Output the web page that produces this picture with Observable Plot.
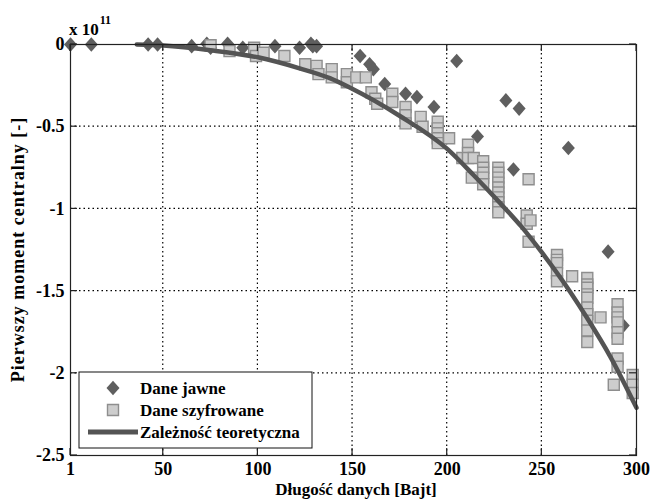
<!DOCTYPE html>
<html>
<head>
<meta charset="utf-8">
<script src="https://cdn.jsdelivr.net/npm/d3@7"></script>
<script src="https://cdn.jsdelivr.net/npm/@observablehq/plot@0.6"></script>
<style>
  html, body { margin: 0; padding: 0; background: #fff; }
  #chart { width: 650px; height: 500px; }
</style>
</head>
<body>
<div id="chart"></div>
<script>
// ---- Data (values in units of 10^11) ----
const xTicks = [1, 50, 100, 150, 200, 250, 300];
const yTicks = [0, -0.5, -1, -1.5, -2, -2.5];
const xTickLabels = ["1", "50", "100", "150", "200", "250", "300"];
const yTickLabels = ["0", "-0.5", "-1", "-1.5", "-2", "-2.5"];

// Dane jawne (diamonds)
const jawneX = [1, 12, 42, 47, 65, 73, 75, 84, 92, 109, 122, 128, 129, 131,
  154, 159, 161, 167, 178, 184, 193, 205, 216, 231, 235, 238, 264, 285, 293];
const jawneY = [0, 0, 0, 0, -0.01, 0.005, -0.02, 0.005, -0.02, -0.01, -0.02, 0.005, -0.01, -0.01,
  -0.07, -0.12, -0.15, -0.24, -0.30, -0.32, -0.38, -0.10, -0.56, -0.34, -0.76, -0.39, -0.63, -1.26, -1.71];

// Dane szyfrowane (squares)
const szyfrX = [75, 85, 98, 99, 103, 114, 125, 131, 132, 139, 139, 147, 147, 152, 157,
  160, 162, 163, 171, 171, 178, 178, 178, 186, 187,
  195, 195, 195, 195, 195, 201,
  208, 211, 211, 211, 214, 213,
  219, 219, 219, 219, 219,
  227, 227, 227, 227, 227, 227, 227, 227, 227, 227,
  243, 242, 242, 244, 243,
  258, 258, 258, 258, 258, 266,
  274, 274, 274, 274, 274, 274, 274, 274, 274, 274, 281,
  290, 290, 290, 290, 290, 290, 290, 290, 288,
  298, 298, 298];
const szyfrY = [-0.005, -0.04, -0.02, -0.07, -0.05, -0.07, -0.12, -0.13, -0.18, -0.15, -0.20, -0.18, -0.23, -0.20, -0.20,
  -0.29, -0.33, -0.36, -0.30, -0.35, -0.38, -0.43, -0.48, -0.44, -0.50,
  -0.47, -0.51, -0.54, -0.57, -0.60, -0.57,
  -0.69, -0.61, -0.66, -0.69, -0.69, -0.81,
  -0.71, -0.75, -0.78, -0.81, -0.85,
  -0.75, -0.78, -0.81, -0.84, -0.87, -0.90, -0.93, -0.96, -0.99, -1.02,
  -0.82, -1.04, -1.09, -1.07, -1.20,
  -1.28, -1.31, -1.33, -1.39, -1.44, -1.41,
  -1.42, -1.46, -1.48, -1.52, -1.54, -1.60, -1.64, -1.68, -1.74, -1.81, -1.66,
  -1.58, -1.63, -1.66, -1.69, -1.75, -1.79, -1.91, -1.96, -2.07,
  -2.01, -2.07, -2.12];

// Zależność teoretyczna (line)
const teorX = [36, 50, 75, 100, 122, 138, 149, 175, 200, 214, 228, 239, 250, 265, 274, 286, 300];
const teorY = [0, -0.006, -0.035, -0.078, -0.145, -0.205, -0.265, -0.435, -0.635, -0.795, -0.965, -1.105, -1.265, -1.505, -1.665, -1.895, -2.21];

const legendLabels = ["Dane jawne", "Dane szyfrowane", "Zależność teoretyczna"];
const xTitle = "Długość danych [Bajt]";
const yTitle = "Pierwszy moment centralny [-]";

// ---- Tables built from arrays ----
const jawne = jawneX.map((x, i) => ({x, y: jawneY[i]}));
const szyfr = szyfrX.map((x, i) => ({x, y: szyfrY[i]}));
const teor = teorX.map((x, i) => ({x, y: teorY[i]}));

const FONT = "'Liberation Serif', 'DejaVu Serif', serif";
const C_DIAM = "#5f5f5f";
const C_SQ_FILL = "#cdcdcd";
const C_SQ_STROKE = "#8e8e8e";
const C_LINE = "#545454";

const diamondSym = {
  draw(ctx) {
    ctx.moveTo(0, -7.3); ctx.lineTo(6.5, 0); ctx.lineTo(0, 7.3); ctx.lineTo(-6.5, 0); ctx.closePath();
  }
};
const squareSym = {
  draw(ctx) {
    ctx.moveTo(-5.5, -5.5); ctx.lineTo(5.5, -5.5); ctx.lineTo(5.5, 5.5); ctx.lineTo(-5.5, 5.5); ctx.closePath();
  }
};

const plot = Plot.plot({
  width: 650,
  height: 500,
  marginLeft: 70,
  marginRight: 14,
  marginTop: 44,
  marginBottom: 45,
  style: {fontFamily: FONT, fontSize: "18px", fontWeight: "bold", background: "white", color: "black"},
  x: {domain: [1, 300]},
  y: {domain: [-2.5, 0]},
  marks: [
    Plot.dot(jawne, {x: "x", y: "y", symbol: diamondSym, r: 7, fill: C_DIAM, stroke: "none"}),
    Plot.dot(szyfr, {x: "x", y: "y", symbol: squareSym, r: 6, fill: C_SQ_FILL, stroke: C_SQ_STROKE, strokeWidth: 1.4}),
    Plot.line(teor, {x: "x", y: "y", stroke: C_LINE, strokeWidth: 4.5, curve: "monotone-x"}),
    Plot.frame({stroke: "#222", strokeWidth: 1.2}),
    Plot.axisX(xTicks, {tickSize: 0, tickPadding: 7, label: null, tickFormat: (d) => xTickLabels[xTicks.indexOf(d)], fontSize: 18}),
    Plot.axisY(yTicks, {tickSize: 0, tickPadding: 6, label: null, tickFormat: (d) => yTickLabels[yTicks.indexOf(d)], fontSize: 18})
  ]
});

document.getElementById("chart").appendChild(plot);

// ---- Extra decorations using the plot's scales ----
const sx = plot.scale("x"), sy = plot.scale("y");
const svg = d3.select(plot);
const x0 = sx.apply(1), x1 = sx.apply(300);
const yTop = sy.apply(0), yBot = sy.apply(-2.5);
const TL = 7;

// Dotted grid, inserted beneath the data marks
const grid = svg.insert("g", ":first-child").attr("stroke", "#000").attr("stroke-width", 1.2)
  .attr("stroke-dasharray", "1.5,3");
svg.insert("rect", ":first-child").attr("width", 650).attr("height", 500).attr("fill", "white");
xTicks.slice(1, -1).forEach(v => {
  const px = sx.apply(v);
  grid.append("line").attr("x1", px).attr("x2", px).attr("y1", yTop).attr("y2", yBot);
});
yTicks.slice(1, -1).forEach(v => {
  const py = sy.apply(v);
  grid.append("line").attr("x1", x0).attr("x2", x1).attr("y1", py).attr("y2", py);
});

const ticks = svg.append("g").attr("stroke", "#222").attr("stroke-width", 1.2);
xTicks.forEach(v => {
  const px = sx.apply(v);
  ticks.append("line").attr("x1", px).attr("x2", px).attr("y1", yBot).attr("y2", yBot - TL);
  ticks.append("line").attr("x1", px).attr("x2", px).attr("y1", yTop).attr("y2", yTop + TL);
});
yTicks.forEach(v => {
  const py = sy.apply(v);
  ticks.append("line").attr("x1", x0).attr("x2", x0 + TL).attr("y1", py).attr("y2", py);
  ticks.append("line").attr("x1", x1).attr("x2", x1 - TL).attr("y1", py).attr("y2", py);
});

// Exponent label
const expo = svg.append("text").attr("font-family", FONT).attr("font-weight", "bold").attr("fill", "black")
  .attr("text-anchor", "start").attr("x", x0 - 1).attr("y", 35).attr("font-size", 17);
expo.append("tspan").text("x 10");
expo.append("tspan").attr("font-size", 12).attr("dy", -11).attr("dx", 1).text("11");

// Axis titles
svg.append("text").attr("font-family", FONT).attr("font-weight", "bold").attr("font-size", 17)
  .attr("text-anchor", "middle").attr("x", (x0 + x1) / 2 + 3).attr("y", 495).attr("fill", "black")
  .text(xTitle);
svg.append("text").attr("font-family", FONT).attr("font-weight", "bold").attr("font-size", 18)
  .attr("letter-spacing", 1).attr("text-anchor", "middle").attr("fill", "black")
  .attr("transform", `translate(24,${(yTop + yBot) / 2}) rotate(-90)`)
  .text(yTitle);

// Legend
const lg = svg.append("g");
lg.append("rect").attr("x", x0 + 9).attr("y", 372).attr("width", 233).attr("height", 76)
  .attr("fill", "white").attr("stroke", "#111").attr("stroke-width", 1);
const lx = x0 + 43;
lg.append("path").attr("transform", `translate(${lx},388)`).attr("d", "M0,-7.3L6.5,0L0,7.3L-6.5,0Z").attr("fill", C_DIAM);
lg.append("path").attr("transform", `translate(${lx},410)`).attr("d", "M-5.5,-5.5H5.5V5.5H-5.5Z")
  .attr("fill", C_SQ_FILL).attr("stroke", C_SQ_STROKE).attr("stroke-width", 1.4);
lg.append("line").attr("x1", x0 + 18).attr("x2", x0 + 68).attr("y1", 432).attr("y2", 432)
  .attr("stroke", C_LINE).attr("stroke-width", 5);
legendLabels.forEach((t, i) => {
  lg.append("text").attr("font-family", FONT).attr("font-weight", "bold").attr("font-size", 17)
    .attr("text-anchor", "start").attr("fill", "black").attr("x", x0 + 70).attr("y", 394 + 22 * i).text(t);
});
</script>
</body>
</html>
